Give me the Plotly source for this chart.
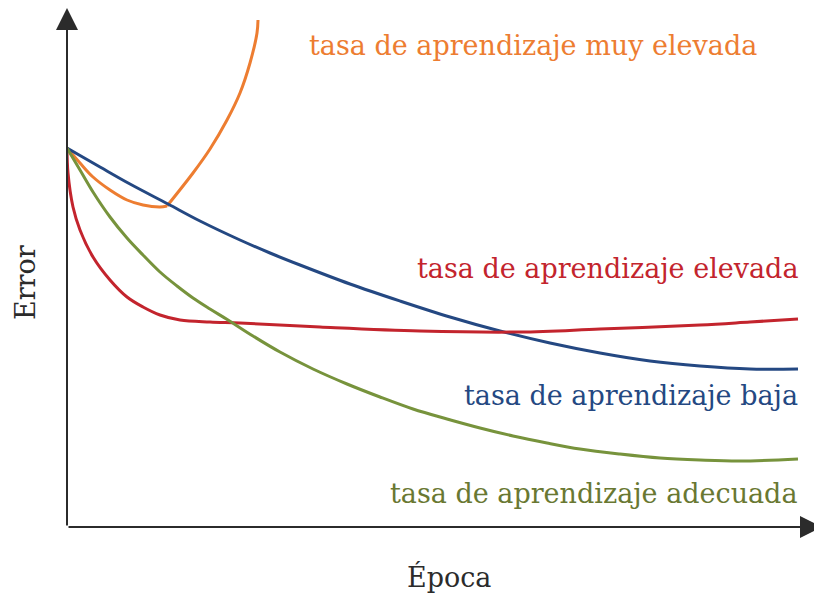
import plotly.graph_objects as go

# Curve readings (epoch, error) in arbitrary units.
# The "muy elevada" curve has a sharp corner, so it is kept as two segments split by None.
epoca_muy_elevada = [0, 13, 26, 43, 60, 76, 93, 100, None, 100, 126, 143, 160, 173, 183, 190, 191]
error_muy_elevada = [379, 364, 350, 337, 327, 322, 320, 321, None, 321, 354, 378, 407, 434, 464, 494, 507]

epoca_baja = [0, 33, 63, 101, 133, 173, 203, 233, 283, 333, 383, 433, 483, 533, 583, 633, 683, 731]
error_baja = [379, 360, 343, 323, 306, 287, 274, 262, 243, 226, 210, 196, 184, 174, 166, 161, 158, 158]

epoca_elevada = [0, 1, 6, 13, 26, 43, 60, 76, 93, 113, 143, 173, 253, 353, 453, 533, 633, 683, 731]
error_elevada = [379, 354, 320, 297, 270, 247, 230, 220, 212, 207, 205, 204, 200, 196, 195, 198, 202, 205, 208]

epoca_adecuada = [0, 13, 26, 43, 60, 76, 93, 110, 126, 143, 161, 186, 213, 246, 280, 313, 346, 380, 413, 446, 480, 513, 553, 593, 633, 673, 731]
error_adecuada = [379, 357, 335, 310, 289, 272, 255, 241, 229, 218, 207, 191, 175, 158, 143, 130, 118, 108, 99, 91, 84, 78, 73, 69, 67, 66, 68]

ORANGE = "rgb(237,125,49)"
BLUE = "rgb(36,72,130)"
RED = "rgb(195,36,45)"
GREEN = "rgb(119,147,60)"
FONT = "DejaVu Serif"
AXIS_COLOR = "#2b2b2b"

series = [
    ("muy elevada", epoca_muy_elevada, error_muy_elevada, ORANGE),
    ("baja", epoca_baja, error_baja, BLUE),
    ("elevada", epoca_elevada, error_elevada, RED),
    ("adecuada", epoca_adecuada, error_adecuada, GREEN),
]

fig = go.Figure()
for name, xs, ys, color in series:
    fig.add_trace(
        go.Scatter(
            x=xs,
            y=ys,
            mode="lines",
            line=dict(color=color, width=3, shape="spline", smoothing=1.0),
            connectgaps=False,
            name=f"tasa de aprendizaje {name}",
            showlegend=False,
            hoverinfo="skip",
        )
    )

labels = [
    ("tasa de aprendizaje muy elevada", 240, 482, "left", ORANGE),
    ("tasa de aprendizaje elevada", 733, 259, "right", RED),
    ("tasa de aprendizaje baja", 733, 132, "right", BLUE),
    ("tasa de aprendizaje adecuada", 733, 34, "right", "rgb(105,120,50)"),
]
annotations = [
    dict(
        text=t, x=x, y=y, xref="x", yref="y", xanchor=anchor, yanchor="middle",
        showarrow=False, font=dict(family=FONT, size=27, color=c),
    )
    for t, x, y, anchor, c in labels
]

# axis arrows and axis titles
annotations += [
    dict(x=0, y=519, ax=0, ay=0, xref="x", yref="y", axref="x", ayref="y",
         showarrow=True, arrowhead=2, arrowsize=2.2, arrowwidth=2, arrowcolor=AXIS_COLOR, text=""),
    dict(x=755, y=0, ax=0, ay=0, xref="x", yref="y", axref="x", ayref="y",
         showarrow=True, arrowhead=2, arrowsize=2.2, arrowwidth=2, arrowcolor=AXIS_COLOR, text=""),
    dict(text="Época", x=382 / 755, y=-50 / 519, xref="paper", yref="paper",
         xanchor="center", yanchor="middle", showarrow=False,
         font=dict(family=FONT, size=27, color=AXIS_COLOR)),
    dict(text="Error", x=-41 / 755, y=244 / 519, xref="paper", yref="paper",
         xanchor="center", yanchor="middle", showarrow=False, textangle=-90,
         font=dict(family=FONT, size=27, color=AXIS_COLOR)),
]

# page body has an 8px margin, so the figure is sized to fill the rest of the window
fig.update_layout(
    width=814,
    height=585,
    margin=dict(l=59, r=0, t=0, b=66),
    paper_bgcolor="white",
    plot_bgcolor="white",
    xaxis=dict(range=[0, 755], visible=False, fixedrange=True),
    yaxis=dict(range=[0, 519], visible=False, fixedrange=True),
    annotations=annotations,
)

fig.write_html("out.html")
